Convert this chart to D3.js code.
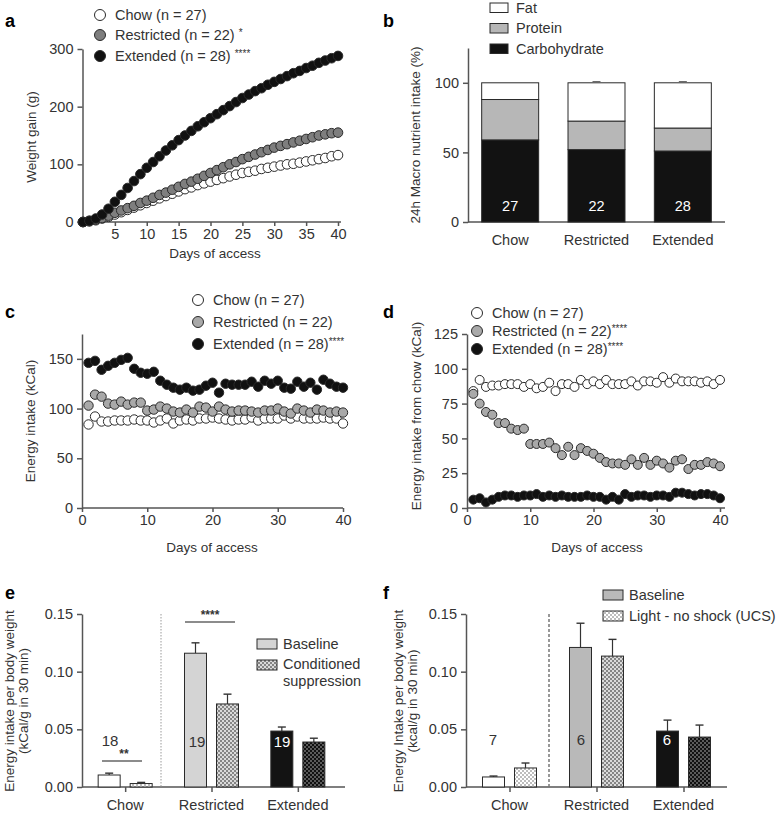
<!DOCTYPE html>
<html><head><meta charset="utf-8">
<script src="https://cdn.jsdelivr.net/npm/d3@7"></script>
<style>
body{margin:0;background:#fff}
text{font-family:"Liberation Sans",Arial,Helvetica,sans-serif;fill:#333}
</style>
</head><body>
<svg id="fig" width="776" height="814"></svg>
<script>
// ---------------- DATA ----------------
const daysA = d3.range(0, 41);
const weightChow = [0,1,3,6,9,13,17,21,25,29,33,37,41,45,49,53,57,60,64,67,70,73,76,79,82,85,87,89,92,94,96,98,100,101,103,105,107,109,111,114,116];
const weightRestricted = [0,2,4,7,11,16,20,24,28,33,37,42,47,51,56,61,66,70,75,80,85,90,95,100,104,109,113,117,121,125,129,132,135,138,141,144,147,150,152,154,155];
const weightExtended = [0,2,6,13,23,35,47,59,71,83,94,104,114,124,133,142,150,158,166,173,180,187,194,201,208,215,221,227,232,238,243,248,253,258,262,267,271,276,280,284,288];
const ticksAX = [5,10,15,20,25,30,35,40];
const ticksAY = [0,100,200,300];

const daysC = d3.range(1, 41);
const intakeChow = [84,92,87,87,88,88,88,89,88,88,86,88,90,85,88,89,88,90,90,91,90,89,88,89,89,91,88,90,90,90,93,90,92,90,90,90,91,90,90,85];
const intakeRestricted = [103,114,112,105,104,107,104,106,106,98,99,102,100,97,96,99,96,102,101,97,102,99,97,98,98,97,96,98,98,100,97,95,100,98,96,99,98,96,97,96];
const intakeExtended = [146,148,139,143,146,149,151,140,136,135,137,128,124,121,119,121,118,119,123,126,116,125,124,124,124,127,122,128,125,128,121,120,127,122,126,119,129,125,122,121];
const ticksCX = [0,10,20,30,40];
const ticksCY = [0,50,100,150];

const chowFromChow = [84,92,87,88,88,89,89,89,87,89,86,87,90,84,89,89,87,92,89,91,89,92,89,89,89,91,88,91,91,90,94,90,93,91,91,91,90,91,89,92];
const chowFromRestricted = [82,75,69,67,61,61,57,56,57,46,46,46,47,43,38,44,38,43,41,39,36,33,32,32,31,35,31,36,31,34,32,29,34,35,28,31,31,33,32,30];
const chowFromExtended = [6,7,4,6,8,9,9,8,9,9,10,8,9,8,9,8,8,8,9,8,8,6,8,6,10,8,9,9,8,9,9,8,11,11,10,9,10,10,9,7];
const ticksDY = [0,25,50,75,100,125];

const groups = ["Chow","Restricted","Extended"];
const groupN = ["27","22","28"];
const macroCarb = [59, 52, 51];
const macroProtein = [29, 20.5, 16.5];
const macroFat = [12, 27.5, 32.5];
const macroCarbErr = [0, 1, 1];
const macroProteinErr = [0, 0.6, 0.6];
const macroFatErr = [0, 0.8, 0.8];
const macroKeys = ["Carbohydrate","Protein","Fat"];
const ticksBY = [0,50,100];

const eBaseline = [0.0104, 0.116, 0.0485];
const eBaselineErr = [0.0016, 0.009, 0.0035];
const eCS = [0.003, 0.072, 0.039];
const eCSErr = [0.001, 0.0085, 0.0033];
const eN = ["18","19","19"];

const fBaseline = [0.0087, 0.121, 0.0485];
const fBaselineErr = [0.0008, 0.021, 0.0095];
const fUCS = [0.0165, 0.1135, 0.0433];
const fUCSErr = [0.0043, 0.0145, 0.0104];
const fN = ["7","6","6"];
const ticksEY = [0, 0.05, 0.10, 0.15];

// ---------------- HELPERS ----------------
const svg = d3.select("#fig");
svg.append("rect").attr("width",776).attr("height",814).attr("fill","#fff");
const AX = "#555";
const FONT_TICK = 14.5, FONT_TITLE = 13.5;

const defs = svg.append("defs");
function checker(id, bg, fg){
  const p = defs.append("pattern").attr("id",id).attr("patternUnits","userSpaceOnUse").attr("width",4).attr("height",4);
  p.append("rect").attr("width",4).attr("height",4).attr("fill",bg);
  p.append("rect").attr("width",2).attr("height",2).attr("fill",fg);
  p.append("rect").attr("x",2).attr("y",2).attr("width",2).attr("height",2).attr("fill",fg);
}
checker("chkLight","#ffffff","#bdbdbd");
checker("chkMid","#dadada","#858585");
checker("chkDark","#5a5a5a","#111111");

function line(x1,y1,x2,y2,opt={}){
  return svg.append("line").attr("x1",x1).attr("y1",y1).attr("x2",x2).attr("y2",y2)
    .attr("stroke",opt.stroke||AX).attr("stroke-width",opt.w||1.5).attr("stroke-dasharray",opt.dash||null);
}
function text(x,y,s,opt={}){
  return svg.append("text").attr("x",x).attr("y",y).attr("dy",opt.dy||"0.35em")
    .attr("text-anchor",opt.anchor||"middle").attr("font-size",opt.size||FONT_TICK)
    .attr("font-weight",opt.weight||null).style("fill",opt.fill||"#333").text(s);
}
function vtitle(x,y,s,size){
  svg.append("text").attr("transform",`translate(${x},${y}) rotate(-90)`).attr("dy","0.35em")
    .attr("text-anchor","middle").attr("font-size",size||FONT_TITLE).text(s);
}
function yAxis(scale, ticks, x, fmt){
  const g = svg.append("g").attr("transform",`translate(${x},0)`)
    .call(d3.axisLeft(scale).tickValues(ticks).tickSize(5).tickSizeOuter(0).tickPadding(4).tickFormat(fmt||d3.format("d")));
  g.select(".domain").attr("stroke",AX).attr("stroke-width",1.5);
  g.selectAll(".tick line").attr("stroke",AX).attr("stroke-width",1.5);
  g.selectAll(".tick text").attr("font-size",FONT_TICK).attr("font-family",null).style("fill","#333");
  return g;
}
function xAxis(scale, ticks, y){
  const g = svg.append("g").attr("transform",`translate(0,${y})`)
    .call(d3.axisBottom(scale).tickValues(ticks).tickSize(4).tickSizeOuter(0).tickPadding(3).tickFormat(d3.format("d")));
  g.select(".domain").remove();
  g.selectAll(".tick line").attr("stroke",AX).attr("stroke-width",1.5);
  g.selectAll(".tick text").attr("font-size",FONT_TICK).attr("font-family",null).style("fill","#333");
  return g;
}
function dots(xs, ys, xsc, ysc, fill, r){
  svg.append("g").selectAll("circle").data(xs.map((d,i)=>[d,ys[i]])).join("circle")
    .attr("cx",d=>xsc(d[0])).attr("cy",d=>ysc(d[1])).attr("r",r)
    .attr("fill",fill).attr("stroke","#2a2a2a").attr("stroke-width",1);
}
function legendCircle(x,y,fill,label,stars){
  svg.append("circle").attr("cx",x).attr("cy",y).attr("r",5.5).attr("fill",fill).attr("stroke","#2a2a2a").attr("stroke-width",1);
  const t = svg.append("text").attr("x",x+15).attr("y",y).attr("dy","0.35em").attr("font-size",14.5).text(label);
  if(stars) t.append("tspan").attr("font-size",10).attr("dy","-0.4em").text(stars);
}

// ---------------- PANEL A ----------------
text(5,21,"a",{anchor:"start",size:18,weight:"bold",fill:"#000"});
const xa = d3.scaleLinear().domain([0,40]).range([83,338]);
const ya = d3.scaleLinear().domain([0,300]).range([222,49]);
yAxis(ya, ticksAY, 82.5);
line(82.5,222,341,222);
xAxis(xa, ticksAX, 222);
dots(daysA, weightChow, xa, ya, "#ffffff", 4.8);
dots(daysA, weightRestricted, xa, ya, "#7e7e7e", 4.8);
dots(daysA, weightExtended, xa, ya, "#111111", 4.8);
vtitle(31,137,"Weight gain (g)");
text(215,253,"Days of access",{size:FONT_TITLE});
legendCircle(100,15,"#fff","Chow (n = 27)");
legendCircle(100,35,"#7e7e7e","Restricted (n = 22) ","*");
legendCircle(100,56,"#111","Extended (n = 28) ","****");

// ---------------- PANEL B ----------------
text(383,21,"b",{anchor:"start",size:18,weight:"bold",fill:"#000"});
const yb = d3.scaleLinear().domain([0,125]).range([222,48]);
const xb = d3.scaleBand().domain(groups).range([467,726]).paddingInner(0.34).paddingOuter(0.17);
yAxis(yb, ticksBY, 468);
line(468,222,725,222);
const macroRows = groups.map((g,i)=>({group:g, Carbohydrate:macroCarb[i], Protein:macroProtein[i], Fat:macroFat[i]}));
const macroErr = {Carbohydrate:macroCarbErr, Protein:macroProteinErr, Fat:macroFatErr};
const macroFill = {Carbohydrate:"#121212", Protein:"#b7b7b7", Fat:"#ffffff"};
const stacked = d3.stack().keys(macroKeys)(macroRows);
stacked.forEach(layer=>{
  svg.append("g").selectAll("rect").data(layer).join("rect")
    .attr("x",d=>xb(d.data.group)).attr("width",xb.bandwidth())
    .attr("y",d=>yb(d[1])).attr("height",d=>yb(d[0])-yb(d[1]))
    .attr("fill",macroFill[layer.key]).attr("stroke","#2a2a2a").attr("stroke-width",1);
  layer.forEach((d,i)=>{
    const e = macroErr[layer.key][i];
    if(e>0){
      const cx = xb(d.data.group)+xb.bandwidth()/2;
      line(cx, yb(d[1]), cx, yb(d[1]+e), {stroke:"#666",w:1});
      line(cx-4, yb(d[1]+e), cx+4, yb(d[1]+e), {stroke:"#666",w:1.3});
    }
  });
});
groups.forEach((g,i)=>{
  text(xb(g)+xb.bandwidth()/2, 206, groupN[i], {fill:"#fff", size:14.5});
  text(xb(g)+xb.bandwidth()/2, 240, g, {size:14.5});
});
vtitle(415,135,"24h Macro nutrient intake (%)");
[["Fat","#fff"],["Protein","#b7b7b7"],["Carbohydrate","#121212"]].forEach((d,i)=>{
  const cy = 7.5 + i*20.5;
  svg.append("rect").attr("x",490).attr("y",cy-4.5).attr("width",18).attr("height",9.5)
    .attr("fill",d[1]).attr("stroke","#2a2a2a").attr("stroke-width",1);
  text(516, cy, d[0], {anchor:"start", size:14.5});
});

// ---------------- PANEL C ----------------
text(5,312,"c",{anchor:"start",size:18,weight:"bold",fill:"#000"});
const xc = d3.scaleLinear().domain([0,40]).range([82,343]);
const yc = d3.scaleLinear().domain([0,175]).range([508,334]);
yAxis(yc, ticksCY, 82);
line(82,508,343,508);
xAxis(xc, ticksCX, 508);
dots(daysC, intakeChow, xc, yc, "#fff", 4.7);
dots(daysC, intakeRestricted, xc, yc, "#a9a9a9", 4.7);
dots(daysC, intakeExtended, xc, yc, "#111", 4.7);
vtitle(30,421,"Energy intake (kCal)");
text(212,547,"Days of access",{size:FONT_TITLE});
legendCircle(198,300,"#fff","Chow (n = 27)");
legendCircle(198,322,"#a9a9a9","Restricted (n = 22)");
legendCircle(198,344,"#111","Extended (n = 28)","****");

// ---------------- PANEL D ----------------
text(383,312,"d",{anchor:"start",size:18,weight:"bold",fill:"#000"});
const xd = d3.scaleLinear().domain([0,40]).range([467,720]);
const yd = d3.scaleLinear().domain([0,125]).range([508,334]);
yAxis(yd, ticksDY, 467);
line(467,508,725,508);
xAxis(xd, ticksCX, 508);
dots(daysC, chowFromChow, xd, yd, "#fff", 4.5);
dots(daysC, chowFromRestricted, xd, yd, "#a9a9a9", 4.5);
dots(daysC, chowFromExtended, xd, yd, "#111", 4.5);
vtitle(416,416,"Energy intake from chow (kCal)");
text(597,547,"Days of access",{size:FONT_TITLE});
legendCircle(477,313,"#fff","Chow (n = 27)");
legendCircle(477,331,"#a9a9a9","Restricted (n = 22)","****");
legendCircle(477,349,"#111","Extended (n = 28)","****");

// ---------------- PANELS E & F ----------------
const ye = d3.scaleLinear().domain([0,0.15]).range([787,614]);
const fmt2 = d3.format(".2f");
function barPanel(cfg){
  const xg = d3.scaleBand().domain(groups).range(cfg.range).padding(0);
  const xs = d3.scaleBand().domain(["base","test"]).range([-27,27]).paddingInner(0.3125);
  yAxis(ye, ticksEY, cfg.axisX, fmt2);
  line(cfg.axisX,787,cfg.axisEnd,787);
  const gx = svg.append("g").attr("transform","translate(0,787)")
    .call(d3.axisBottom(d3.scalePoint().domain(groups).range([xg(groups[0])+xg.bandwidth()/2, xg(groups[2])+xg.bandwidth()/2])).tickSize(5).tickSizeOuter(0).tickFormat(""));
  gx.select(".domain").remove();
  gx.selectAll(".tick line").attr("stroke",AX).attr("stroke-width",1.5);
  groups.forEach((g,i)=>{
    const c = xg(g)+xg.bandwidth()/2;
    const sets = [["base",cfg.base[i],cfg.baseErr[i],cfg.baseFill[i]],["test",cfg.test[i],cfg.testErr[i],cfg.testFill[i]]];
    sets.forEach(s=>{
      const x0 = c + xs(s[0]);
      const cx = x0 + xs.bandwidth()/2;
      line(cx, ye(s[1]), cx, ye(s[1]+s[2]), {stroke:"#333",w:1.2});
      line(cx-4, ye(s[1]+s[2]), cx+4, ye(s[1]+s[2]), {stroke:"#333",w:1.4});
      svg.append("rect").attr("x",x0).attr("y",ye(s[1])).attr("width",xs.bandwidth()).attr("height",ye(0)-ye(s[1]))
        .attr("fill",s[3]).attr("stroke","#2a2a2a").attr("stroke-width",1);
    });
    text(c, 805, g, {size:14.5});
  });
  return xg;
}

// E
text(5,593,"e",{anchor:"start",size:18,weight:"bold",fill:"#000"});
barPanel({range:[82,341], axisX:82, axisEnd:345,
  base:eBaseline, baseErr:eBaselineErr, test:eCS, testErr:eCSErr,
  baseFill:["#ffffff","#d4d4d4","#131313"], testFill:["url(#chkLight)","url(#chkMid)","url(#chkDark)"]});
line(161,614,161,787,{stroke:"#9a9a9a",w:1,dash:"1.5,1.5"});
text(110,741,eN[0],{size:15});
text(197,742,eN[1],{size:15});
text(282,742,eN[2],{size:15,fill:"#fff"});
line(102,761,142,761,{stroke:"#666",w:1.5});
text(124,754,"**",{size:12,weight:"bold"});
line(185,622,235,622,{stroke:"#666",w:1.5});
text(210,615,"****",{size:12,weight:"bold"});
svg.append("rect").attr("x",257).attr("y",639).attr("width",20).attr("height",10).attr("fill","#d4d4d4").attr("stroke","#2a2a2a");
text(283,644,"Baseline",{anchor:"start",size:14.5});
svg.append("rect").attr("x",257).attr("y",660).attr("width",20).attr("height",10).attr("fill","url(#chkMid)").attr("stroke","#2a2a2a");
text(283,664,"Conditioned",{anchor:"start",size:14.5});
text(283,681,"suppression",{anchor:"start",size:14.5});
svg.append("text").attr("transform","translate(9,701) rotate(-90)").attr("dy","0.35em").attr("text-anchor","middle").attr("font-size",FONT_TITLE).text("Energy intake per body weight");
svg.append("text").attr("transform","translate(23,701) rotate(-90)").attr("dy","0.35em").attr("text-anchor","middle").attr("font-size",FONT_TITLE).text("(kCal/g in 30 min)");

// F
text(383,593,"f",{anchor:"start",size:18,weight:"bold",fill:"#000"});
barPanel({range:[466,727], axisX:466, axisEnd:727,
  base:fBaseline, baseErr:fBaselineErr, test:fUCS, testErr:fUCSErr,
  baseFill:["#ffffff","#b9b9b9","#131313"], testFill:["url(#chkLight)","url(#chkMid)","url(#chkDark)"]});
line(549,614,549,787,{stroke:"#777",w:1.5,dash:"3,2"});
text(493,740,fN[0],{size:15});
text(581,740,fN[1],{size:15});
text(667,740,fN[2],{size:15,fill:"#fff"});
svg.append("rect").attr("x",603).attr("y",590).attr("width",20).attr("height",10).attr("fill","#b9b9b9").attr("stroke","#2a2a2a");
text(629,595,"Baseline",{anchor:"start",size:14.5});
svg.append("rect").attr("x",603).attr("y",611).attr("width",20).attr("height",10).attr("fill","url(#chkLight)").attr("stroke","#2a2a2a");
text(629,616,"Light - no shock (UCS)",{anchor:"start",size:14.5});
svg.append("text").attr("transform","translate(398,701) rotate(-90)").attr("dy","0.35em").attr("text-anchor","middle").attr("font-size",FONT_TITLE).text("Energy Intake per body weight");
svg.append("text").attr("transform","translate(412,701) rotate(-90)").attr("dy","0.35em").attr("text-anchor","middle").attr("font-size",FONT_TITLE).text("(kcal/g in 30 min)");
</script>
</body></html>
